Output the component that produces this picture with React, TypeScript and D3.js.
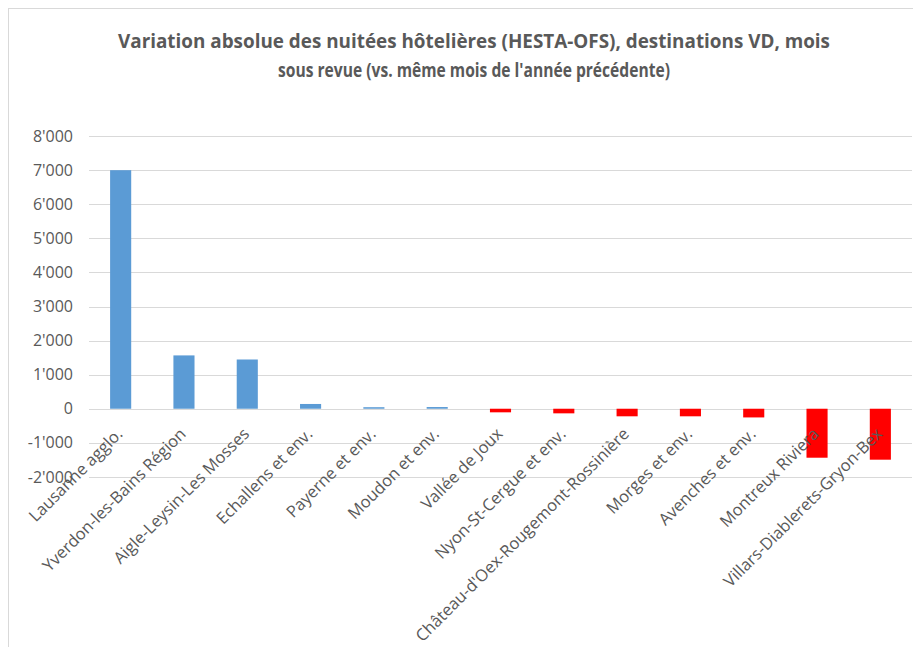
import React from "react";
import * as d3 from "d3";

const categories = [
  "Lausanne agglo.",
  "Yverdon-les-Bains Région",
  "Aigle-Leysin-Les Mosses",
  "Echallens et env.",
  "Payerne et env.",
  "Moudon et env.",
  "Vallée de Joux",
  "Nyon-St-Cergue et env.",
  "Château-d'Oex-Rougemont-Rossinière",
  "Morges et env.",
  "Avenches et env.",
  "Montreux Riviera",
  "Villars-Diablerets-Gryon-Bex",
];
const values = [7000, 1565, 1445, 140, 45, 50, -105, -135, -222, -222, -255, -1437, -1495];
const yTicks = [-2000, -1000, 0, 1000, 2000, 3000, 4000, 5000, 6000, 7000, 8000];
const titleLines = [
  "Variation absolue des nuitées hôtelières (HESTA-OFS), destinations VD, mois",
  "sous revue (vs. même mois de l'année précédente)",
];

const W = 912;
const H = 639;
const plotLeft = 81;
const plotRight = 904;
const yTop = 128.1;
const yBottom = 468.9;
const textColor = "#595959";
const gridColor = "#D9D9D9";
const font = "'Open Sans', 'Noto Sans', sans-serif";

const fmt = (v: number) => {
  if (v === 0) return "0";
  const s = d3.format(",")(v);
  return s.replace(/,/g, "'").replace("−", "-");
};

export default function App() {
  const x = d3.scaleBand<string>().domain(categories).range([plotLeft, plotRight]).paddingInner(2 / 3).paddingOuter(1 / 3);
  const y = d3.scaleLinear().domain([-2000, 8000]).range([yBottom, yTop]);

  return (
    <svg width={W} height={H} style={{ display: "block" }} fontFamily={font}>
      <rect x={0.5} y={0.5} width={W + 20} height={H + 20} fill="#fff" stroke={gridColor} strokeWidth={1} />
      {titleLines.map((t, i) => (
        <text
          key={i}
          x={466}
          y={40 + i * 29}
          textAnchor="middle"
          fontSize={19.5}
          fontWeight="bold"
          fill={textColor}
          textLength={i === 0 ? 712 : 392}
          lengthAdjust="spacingAndGlyphs"
        >
          {t}
        </text>
      ))}
      {yTicks.map((t) => (
        <g key={t}>
          <line x1={plotLeft} x2={plotRight} y1={Math.round(y(t)) + 0.5} y2={Math.round(y(t)) + 0.5} stroke={gridColor} strokeWidth={1} />
          <text x={65} y={y(t)} dy="0.35em" textAnchor="end" fontSize={16} fill={textColor}>
            {fmt(t)}
          </text>
        </g>
      ))}
      {categories.map((c, i) => {
        const v = values[i];
        const y0 = y(0);
        const y1 = y(v);
        return (
          <rect
            key={c}
            x={x(c)!}
            width={x.bandwidth()}
            y={Math.min(y0, y1)}
            height={Math.abs(y1 - y0)}
            fill={v >= 0 ? "#5B9BD5" : "#FF0000"}
          />
        );
      })}
      {categories.map((c) => {
        const cx = x(c)! + x.bandwidth() / 2;
        const ax = cx + 3;
        const ay = 427;
        return (
          <text
            key={c}
            x={ax}
            y={ay}
            textAnchor="end"
            fontSize={16.5}
            fill={textColor}
            transform={`rotate(-45, ${ax}, ${ay})`}
          >
            {c}
          </text>
        );
      })}
    </svg>
  );
}
